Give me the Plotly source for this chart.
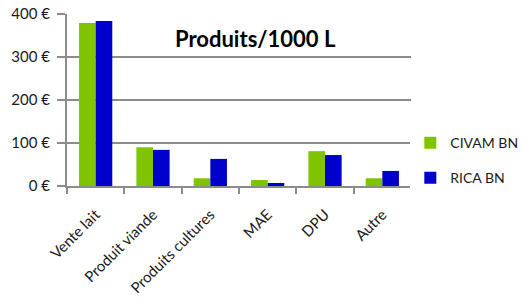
import plotly.graph_objects as go

categories = ["Vente lait", "Produit viande", "Produits cultures", "MAE", "DPU", "Autre"]
civam_bn = [379, 90, 18, 14, 81, 18]
rica_bn = [384, 84, 63, 7, 72, 35]
y_ticks = [0, 100, 200, 300, 400]
y_tick_labels = ["0 €", "100 €", "200 €", "300 €", "400 €"]
title_text = "Produits/1000 L"

FONT = "Lato, 'Open Sans', sans-serif"
GRID = "#8c8c8c"

fig = go.Figure()
fig.add_trace(go.Bar(name="CIVAM BN", x=categories, y=civam_bn, marker_color="#80c400",
                     marker_line_width=0, legendgroup="a"))
fig.add_trace(go.Bar(name="RICA BN", x=categories, y=rica_bn, marker_color="#0000cc",
                     marker_line_width=0, legendgroup="b"))

fig.update_layout(
    width=524, height=302,
    margin=dict(l=67, r=113, t=14, b=116, autoexpand=False),
    paper_bgcolor="white", plot_bgcolor="white",
    bargap=0.42, bargroupgap=0,
    font=dict(family=FONT, size=15, color="#1a1a1a"),
    legend=dict(x=0.998, y=0.148, xanchor="left", yanchor="middle",
                font=dict(size=14, color="#1a1a1a"), tracegroupgap=14,
                traceorder="grouped", itemwidth=30),
    annotations=[dict(text="<b>" + title_text + "</b>", xref="paper", yref="paper",
                      x=0.547, y=0.855, xanchor="center", yanchor="middle", showarrow=False,
                      font=dict(size=22, family=FONT, color="black"))],
)
fig.update_yaxes(range=[0, 400], tickvals=y_ticks, ticktext=y_tick_labels,
                 showgrid=True, gridcolor=GRID, gridwidth=2,
                 showline=True, linecolor=GRID, linewidth=2,
                 ticks="outside", ticklen=8, tickcolor=GRID, tickwidth=2,
                 ticklabeloverflow="allow", ticklabelstandoff=4,
                 zeroline=False, tickfont=dict(size=15), automargin=False)
fig.update_xaxes(tickangle=-45, showline=True, linecolor=GRID, linewidth=2,
                 ticks="outside", tickson="boundaries", ticklen=6, tickcolor=GRID, tickwidth=2,
                 ticklabelstandoff=12, ticklabeloverflow="allow",
                 tickfont=dict(size=15), automargin=False)

# remove the default 8px page margin so the figure fills the 524x302 window
fig.write_html("out.html", config={"displayModeBar": False},
               post_script="document.body.style.margin='0px';")
